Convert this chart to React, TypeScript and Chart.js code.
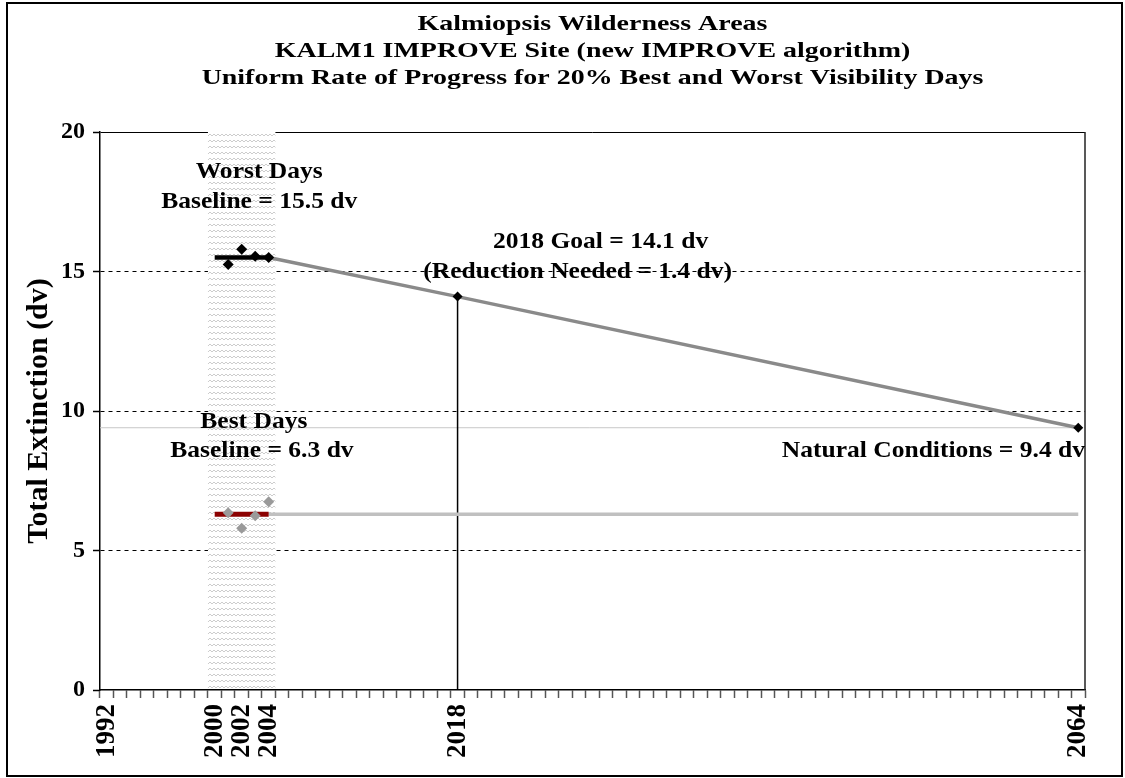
import React, { useEffect, useRef } from 'react';
import { Chart, registerables } from 'chart.js';

Chart.register(...registerables);

// ---- data ----
const titleLines = [
  'Kalmiopsis Wilderness Areas',
  'KALM1 IMPROVE Site (new IMPROVE algorithm)',
  'Uniform Rate of Progress for 20% Best and Worst Visibility Days',
];
const firstYear = 1992;
const lastYear = 2064;
const labeledYears = [1992, 2000, 2002, 2004, 2018, 2064];
const bandYears = [2000, 2004];

const worstYears = [2001, 2002, 2003, 2004];
const worstValues = [15.25, 15.8, 15.55, 15.5];
const bestYears = [2001, 2002, 2003, 2004];
const bestValues = [6.35, 5.8, 6.25, 6.75];

const baselineYears = [2000, 2004];
const worstBaseline = 15.5;
const bestBaseline = 6.3;

const urpYears = [2004, 2018, 2064];
const urpValues = [15.5, 14.1, 9.4];
const goalYear = 2018;
const goalValue = 14.1;
const naturalYear = 2064;
const naturalValue = 9.4;

const yTicks = [0, 5, 10, 15, 20];

// annotation texts anchored in data coordinates
const notes = [
  { text: 'Worst Days', x: 2003.3, y: 18.55, align: 'center' },
  { text: 'Baseline = 15.5 dv', x: 2003.3, y: 17.5, align: 'center' },
  { text: '2018 Goal = 14.1 dv', x: 2028.6, y: 16.06, align: 'center' },
  { text: '(Reduction Needed = 1.4 dv)', x: 2026.9, y: 14.98, align: 'center' },
  { text: 'Best Days', x: 2002.9, y: 9.6, align: 'center' },
  { text: 'Baseline = 6.3 dv', x: 2003.5, y: 8.57, align: 'center' },
  { text: 'Natural Conditions = 9.4 dv', x: 2064.5, y: 8.57, align: 'right' },
];

const FONT = '"Liberation Serif", "Times New Roman", serif';

function makeHatch(): CanvasPattern | string {
  const c = document.createElement('canvas');
  c.width = 8;
  c.height = 6;
  const g = c.getContext('2d');
  if (!g) return '#eee';
  g.fillStyle = '#ffffff';
  g.fillRect(0, 0, 8, 6);
  g.strokeStyle = '#cdcdcd';
  g.lineWidth = 1;
  g.beginPath();
  g.moveTo(0, 4);
  g.lineTo(2, 2);
  g.lineTo(4, 4);
  g.lineTo(6, 2);
  g.lineTo(8, 4);
  g.stroke();
  const p = g.createPattern(c, 'repeat');
  return p || '#eee';
}

function stretchedText(ctx: CanvasRenderingContext2D, text: string, x: number, y: number, sx: number, align: string) {
  ctx.save();
  ctx.translate(x, y);
  ctx.scale(sx, 1);
  ctx.textAlign = align as CanvasTextAlign;
  ctx.fillText(text, 0, 0);
  ctx.restore();
}

const decorPlugin = {
  id: 'decor',
  beforeDatasetsDraw(chart: any) {
    const { ctx, chartArea, scales } = chart;
    const x = scales.x;
    ctx.save();
    ctx.strokeStyle = '#222';
    ctx.lineWidth = 1.5;
    ctx.beginPath();
    ctx.moveTo(chartArea.right, chartArea.top);
    ctx.lineTo(chartArea.right, chartArea.bottom);
    ctx.stroke();
    const l = x.getPixelForValue(bandYears[0] - 0.5);
    const r = x.getPixelForValue(bandYears[1] + 0.5);
    ctx.fillStyle = makeHatch();
    ctx.fillRect(l, chartArea.top - 1, r - l, chartArea.bottom - chartArea.top);
    ctx.restore();
  },
  afterDraw(chart: any) {
    const { ctx, chartArea, scales } = chart;
    ctx.save();
    ctx.fillStyle = '#000';
    ctx.textBaseline = 'middle';
    ctx.font = `bold 22px ${FONT}`;
    const cx = (chartArea.left + chartArea.right) / 2;
    titleLines.forEach((t, i) => stretchedText(ctx, t, cx, 24 + i * 27.3, 1.27, 'center'));
    ctx.font = `bold 23px ${FONT}`;
    notes.forEach((n) => {
      stretchedText(ctx, n.text, scales.x.getPixelForValue(n.x), scales.y.getPixelForValue(n.y), 1.11, n.align);
    });
    ctx.restore();
  },
};

export default function App() {
  const ref = useRef<HTMLCanvasElement>(null);

  useEffect(() => {
    if (!ref.current) return;
    const years: number[] = [];
    for (let y = firstYear; y <= lastYear; y++) years.push(y);

    const pts = (xs: number[], ys: number[]) => xs.map((v, i) => ({ x: v, y: ys[i] }));
    const flat = (xs: number[], v: number) => xs.map((x) => ({ x, y: v }));

    const chart = new Chart(ref.current, {
      type: 'line',
      data: {
        datasets: [
          {
            label: 'Worst days',
            data: pts(worstYears, worstValues),
            showLine: false,
            pointStyle: 'rectRot',
            pointRadius: 5.5,
            pointBackgroundColor: '#000',
            pointBorderWidth: 0,
          },
          {
            label: 'Best days',
            data: pts(bestYears, bestValues),
            showLine: false,
            pointStyle: 'rectRot',
            pointRadius: 5.5,
            pointBackgroundColor: '#9a9a9a',
            pointBorderWidth: 0,
          },
          {
            label: 'Goal and natural',
            data: [
              { x: goalYear, y: goalValue },
              { x: naturalYear, y: naturalValue },
            ],
            showLine: false,
            pointStyle: 'rectRot',
            pointRadius: 5,
            pointBackgroundColor: '#000',
            pointBorderWidth: 0,
          },
          {
            label: 'Worst baseline',
            data: flat(baselineYears, worstBaseline),
            borderColor: '#000',
            borderWidth: 4.5,
            pointRadius: 0,
          },
          {
            label: 'Best baseline',
            data: flat(baselineYears, bestBaseline),
            borderColor: '#8b0000',
            borderWidth: 5,
            pointRadius: 0,
          },
          {
            label: 'Worst URP',
            data: pts(urpYears, urpValues),
            borderColor: '#8a8a8a',
            borderWidth: 3.5,
            pointRadius: 0,
          },
          {
            label: 'Best URP',
            data: flat([baselineYears[1], naturalYear], bestBaseline),
            borderColor: '#c0c0c0',
            borderWidth: 3.5,
            pointRadius: 0,
          },
          {
            label: 'Goal line',
            data: [
              { x: goalYear, y: 0 },
              { x: goalYear, y: goalValue },
            ],
            borderColor: '#000',
            borderWidth: 1.5,
            pointRadius: 0,
          },
          {
            label: 'Natural level',
            data: flat([firstYear - 0.5, naturalYear], naturalValue),
            borderColor: '#c8c8c8',
            borderWidth: 1,
            pointRadius: 0,
          },
        ],
      },
      options: {
        animation: false,
        responsive: false,
        devicePixelRatio: 1,
        layout: { padding: { top: 132, right: 40, left: 0, bottom: 0 } },
        plugins: {
          legend: { display: false },
          title: { display: false },
          tooltip: { enabled: false },
        },
        scales: {
          x: {
            type: 'linear',
            min: firstYear - 0.5,
            max: lastYear + 0.5,
            afterBuildTicks: (s: any) => {
              s.ticks = years.map((v) => ({ value: v }));
            },
            afterFit: (s: any) => {
              s.height = 88;
            },
            grid: {
              offset: true,
              drawOnChartArea: false,
              drawTicks: true,
              tickLength: 8,
              tickColor: '#555',
              tickWidth: 1.5,
            },
            border: { display: true, color: '#000', width: 1.5 },
            ticks: {
              autoSkip: false,
              minRotation: 90,
              maxRotation: 90,
              padding: 6,
              color: '#000',
              font: { family: FONT, size: 27, weight: 'bold' },
              callback: (v: any) => (labeledYears.includes(Number(v)) ? String(v) : ''),
            },
          },
          y: {
            type: 'linear',
            min: 0,
            max: 20,
            afterBuildTicks: (s: any) => {
              s.ticks = yTicks.map((v) => ({ value: v }));
            },
            afterFit: (s: any) => {
              s.width = 100;
            },
            grid: {
              color: (c: any) => (c.tick && c.tick.value === 0 ? 'rgba(0,0,0,0)' : '#000'),
              lineWidth: 1,
              tickLength: 7,
              tickColor: '#000',
              tickWidth: 1.5,
            },
            border: {
              display: true,
              color: '#000',
              width: 1.5,
              dash: (c: any) => (c.tick && c.tick.value === 20 ? [] : [4, 4]),
            },
            ticks: {
              padding: 8,
              color: '#000',
              font: { family: FONT, size: 24, weight: 'bold' },
            },
            title: {
              display: true,
              text: 'Total Extinction (dv)',
              color: '#000',
              font: { family: FONT, size: 30, weight: 'bold' },
              padding: { top: 21, bottom: 0 },
            },
          },
        },
      },
      plugins: [decorPlugin],
    } as any);
    return () => chart.destroy();
  }, []);

  return (
    <div style={{ position: 'fixed', left: 0, top: 0, width: 1125, height: 778, background: '#fff' }}>
      <canvas ref={ref} width={1125} height={778} style={{ position: 'absolute', left: 0, top: 0 }} />
      <div
        style={{
          position: 'absolute',
          left: 6,
          top: 2,
          width: 1117,
          height: 775,
          boxSizing: 'border-box',
          border: '2px solid #000',
          pointerEvents: 'none',
        }}
      />
    </div>
  );
}
